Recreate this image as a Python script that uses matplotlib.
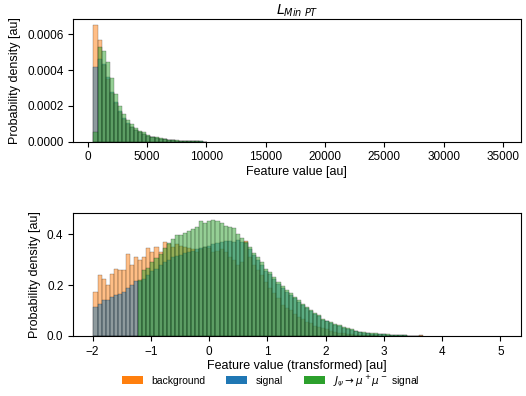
import numpy as np
import matplotlib
matplotlib.use("Agg")
import matplotlib.pyplot as plt
from matplotlib.patches import Patch

plt.rcParams["font.family"] = ["Liberation Sans", "DejaVu Sans"]
plt.rcParams["mathtext.fontset"] = "dejavusans"

# ---- raw feature (top panel) ----
top_bin_start = 500.0
top_bin_width = 343.0
top_background = [0.00065, 0.000568, 0.00043, 0.00035, 0.000275, 0.000215, 0.000168, 0.00013,
                  0.000102, 0.000082, 0.000064, 0.000052, 0.000042, 0.000033, 0.000026, 0.00002,
                  0.000016, 0.000013, 0.00001, 0.000008, 0.000006, 0.000005, 0.000004, 0.000003,
                  0.000002, 0.000002, 0.000001, 0.000001]
top_signal = [0.00042, 0.00046, 0.000435, 0.00036, 0.00028, 0.000222, 0.000172, 0.000133,
              0.000105, 0.000085, 0.000066, 0.000053, 0.000044, 0.000034, 0.000027, 0.000021,
              0.000017, 0.000013, 0.00001, 0.000008, 0.000007, 0.000005, 0.000004, 0.000003,
              0.000003, 0.000002, 0.000002, 0.000001]
top_jpsi = [0.000055, 0.000531, 0.000507, 0.000447, 0.000358, 0.000266, 0.000201, 0.000153,
            0.000121, 0.000097, 0.000075, 0.00006, 0.000053, 0.000037, 0.000028, 0.000024,
            0.000019, 0.000015, 0.000012, 0.00001, 0.000008, 0.000006, 0.000005, 0.000004,
            0.000003, 0.000002, 0.000002, 0.000001]

# ---- transformed feature (bottom panel) ----
bot_bin_start = -1.984
bot_bin_width = 0.0698
bot_background = [0.173, 0.239, 0.223, 0.200, 0.243, 0.263, 0.259, 0.259, 0.322, 0.278,
                  0.309, 0.298, 0.309, 0.344, 0.331, 0.348, 0.331, 0.369, 0.36, 0.35,
                  0.36, 0.355, 0.35, 0.345, 0.34, 0.33, 0.34, 0.35, 0.345, 0.33,
                  0.335, 0.34, 0.33, 0.31, 0.30, 0.28, 0.29, 0.373, 0.31, 0.28,
                  0.26, 0.24, 0.21, 0.19, 0.17, 0.15, 0.12, 0.11, 0.10, 0.085,
                  0.075, 0.065, 0.055, 0.05, 0.04, 0.035, 0.03, 0.025, 0.02, 0.016,
                  0.012, 0.01, 0.008, 0.006, 0.005, 0.004, 0.003, 0.003, 0.002, 0.002,
                  0.001, 0.001, 0.001, 0.0, 0.0, 0.0, 0.0, 0.0, 0.0, 0.0,
                  0.003]
bot_signal = [0.114, 0.124, 0.141, 0.141, 0.151, 0.159, 0.164, 0.173, 0.187, 0.200,
              0.215, 0.215, 0.225, 0.24, 0.255, 0.265, 0.28, 0.29, 0.30, 0.31,
              0.315, 0.32, 0.325, 0.33, 0.335, 0.34, 0.345, 0.35, 0.355, 0.36,
              0.365, 0.37, 0.372, 0.372, 0.37, 0.376, 0.37, 0.365, 0.34, 0.317,
              0.30, 0.28, 0.255, 0.242, 0.222, 0.205, 0.188, 0.172, 0.16, 0.147,
              0.135, 0.12, 0.109, 0.096, 0.087, 0.078, 0.064, 0.057, 0.052, 0.044,
              0.039, 0.032, 0.028, 0.024, 0.019, 0.015, 0.013, 0.011, 0.009, 0.009,
              0.007, 0.006, 0.005, 0.004, 0.003, 0.002, 0.002, 0.001, 0.0, 0.0,
              0.0]
bot_jpsi = [0.0, 0.0, 0.0, 0.0, 0.0, 0.0, 0.0, 0.0, 0.0, 0.0,
            0.0, 0.22, 0.259, 0.269, 0.291, 0.305, 0.324, 0.345, 0.364, 0.38,
            0.396, 0.399, 0.405, 0.412, 0.419, 0.429, 0.452, 0.445, 0.452, 0.456,
            0.453, 0.445, 0.432, 0.429, 0.423, 0.40, 0.387, 0.37, 0.348, 0.327,
            0.311, 0.291, 0.265, 0.252, 0.232, 0.213, 0.196, 0.18, 0.169, 0.154,
            0.141, 0.125, 0.114, 0.10, 0.091, 0.081, 0.066, 0.059, 0.055, 0.046,
            0.041, 0.033, 0.029, 0.025, 0.02, 0.015, 0.014, 0.011, 0.01, 0.01,
            0.007, 0.007, 0.006, 0.004, 0.003, 0.003, 0.002, 0.001, 0.0, 0.0,
            0.0]

labels = ["background", "signal", r"$J_\psi \rightarrow \mu^+\mu^-$ signal"]
colors = ["#ff7f0e", "#1f77b4", "#2ca02c"]

TICK_FS = 8.5
LABEL_FS = 9

fig = plt.figure(figsize=(5.26, 3.96), dpi=100)
ax_top = fig.add_axes([0.139, 0.642, 0.851, 0.309])
ax_bot = fig.add_axes([0.139, 0.152, 0.851, 0.309])


def draw_hist(ax, start, width, series):
    for vals, col in zip(series, colors):
        vals = np.asarray(vals)
        lefts = start + width * np.arange(len(vals))
        ax.bar(lefts, vals, width=width, align="edge", color=col, alpha=0.5,
               edgecolor=(0, 0, 0, 0.15), linewidth=0.3)


draw_hist(ax_top, top_bin_start, top_bin_width, [top_background, top_signal, top_jpsi])
draw_hist(ax_bot, bot_bin_start, bot_bin_width, [bot_background, bot_signal, bot_jpsi])

ax_top.set_xlim(-1215, 36500)
ax_top.set_ylim(0, 0.000684)
ax_top.set_xticks(np.arange(0, 35001, 5000))
ax_top.set_yticks([0.0, 0.0002, 0.0004, 0.0006])
ax_top.set_yticklabels(["0.0000", "0.0002", "0.0004", "0.0006"])
ax_top.set_xlabel("Feature value [au]", fontsize=LABEL_FS, labelpad=2)
ax_top.set_ylabel("Probability density [au]", fontsize=LABEL_FS)
ax_top.set_title(r"$L_{Min\ PT}$", fontsize=10, pad=3)

ax_bot.set_xlim(-2.333, 5.35)
ax_bot.set_ylim(0, 0.482)
ax_bot.set_xticks(np.arange(-2, 6, 1))
ax_bot.set_yticks([0.0, 0.2, 0.4])
ax_bot.set_xlabel("Feature value (transformed) [au]", fontsize=LABEL_FS, labelpad=2)
ax_bot.set_ylabel("Probability density [au]", fontsize=LABEL_FS)

for ax in (ax_top, ax_bot):
    ax.tick_params(labelsize=TICK_FS, length=3.5, width=0.8)

handles = [Patch(facecolor=c) for c in colors]
fig.legend(handles, labels, loc="lower center", ncol=3, frameon=False,
           fontsize=7.5, bbox_to_anchor=(0.515, -0.005), handlelength=2.0,
           handleheight=0.8, handletextpad=0.8, columnspacing=2.0)

fig.savefig("out.png", dpi=100)
